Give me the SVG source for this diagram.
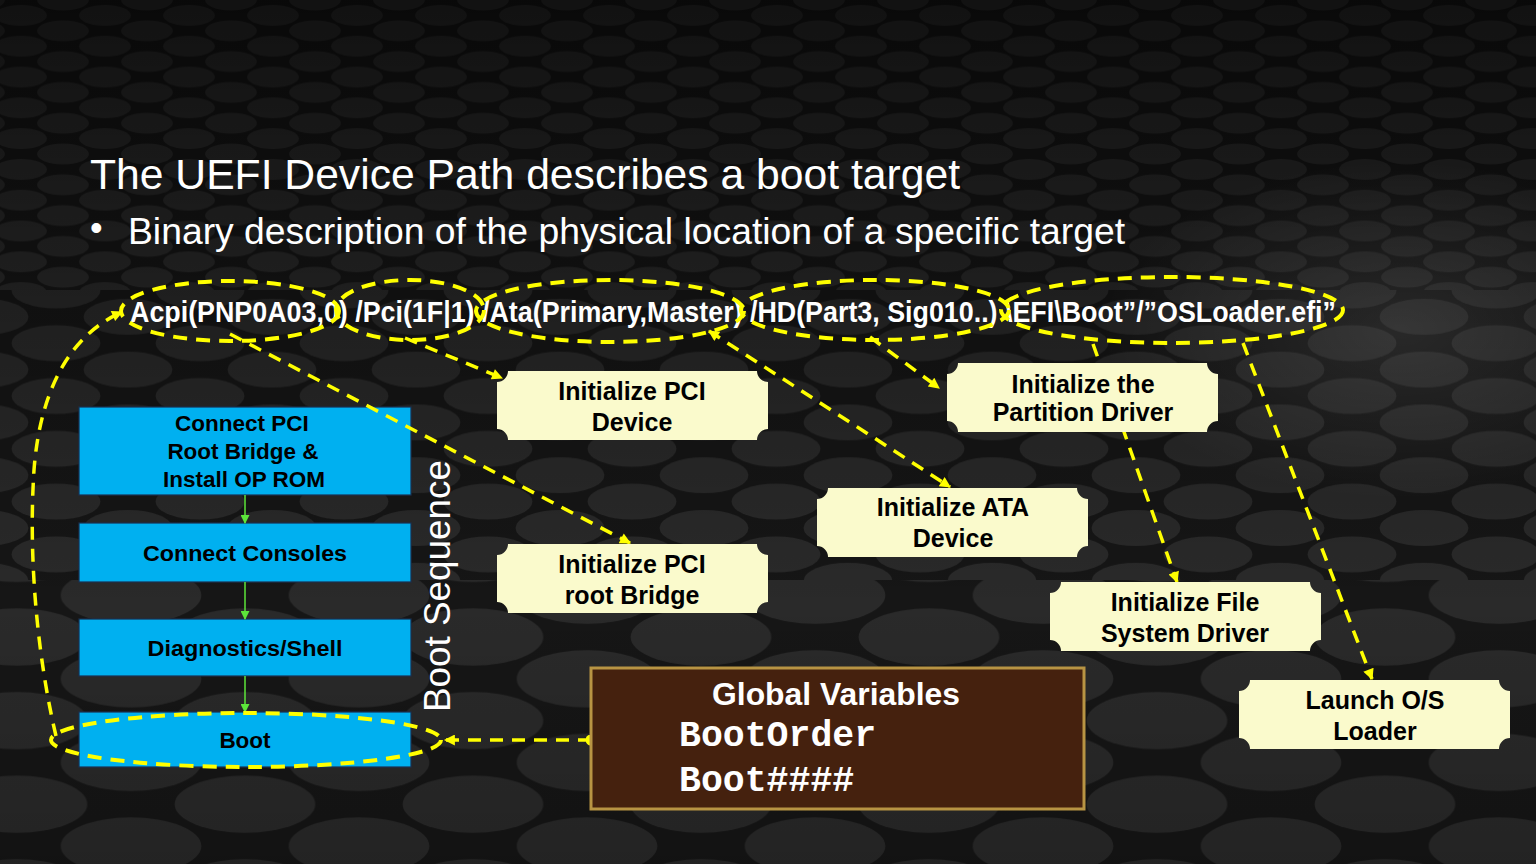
<svg xmlns="http://www.w3.org/2000/svg" xmlns:xlink="http://www.w3.org/1999/xlink" width="1536" height="864" viewBox="0 0 1536 864">
<style>
.ttl{font-family:"Liberation Sans",Arial,sans-serif;fill:#FFFFFF}
.dp{font-family:"Liberation Sans Narrow","Liberation Sans",Arial,sans-serif;font-weight:bold;font-size:29px;fill:#FFFFFF}
.bt{font-family:"Liberation Sans",Arial,sans-serif;font-weight:bold;font-size:22.5px;fill:#000000;text-anchor:middle}
.yt{font-family:"Liberation Sans",Arial,sans-serif;font-weight:bold;font-size:25px;fill:#000000;text-anchor:middle}
.blue{fill:#00B0F0;stroke:#1C2F4F;stroke-width:1.2}
.plaque{fill:#FAFACC}
.dash{fill:none;stroke:#FFFF00;stroke-width:3.5;stroke-dasharray:13 9}
.hl{fill:none;stroke:#FFFF00;stroke-width:4;stroke-dasharray:14 9}
.green{stroke:#5CE63A;stroke-width:1.5;fill:none}
.mono{font-family:"Liberation Mono","Courier New",monospace;font-weight:bold;font-size:36.5px;fill:#FFFFFF}
</style>
<defs>
<pattern id="pat" width="120" height="44" patternUnits="userSpaceOnUse">
<rect width="120" height="44" fill="#171717"/>
<g fill="#2c2c2c">
<ellipse cx="30" cy="22" rx="37" ry="15"/>
<ellipse cx="150" cy="22" rx="37" ry="15"/>
<ellipse cx="90" cy="0" rx="37" ry="15"/>
<ellipse cx="90" cy="44" rx="37" ry="15"/>
<ellipse cx="-30" cy="0" rx="37" ry="15"/>
<ellipse cx="-30" cy="44" rx="37" ry="15"/>
</g>
</pattern>
<pattern id="p1" href="#pat" xlink:href="#pat" patternTransform="scale(0.7)"/>
<pattern id="p2" href="#pat" xlink:href="#pat" patternTransform="translate(20,0) scale(1.2)"/>
<pattern id="p3" href="#pat" xlink:href="#pat" patternTransform="translate(-40,10) scale(1.9)"/>
<linearGradient id="shade" x1="0" y1="0" x2="0" y2="1">
<stop offset="0" stop-color="#000" stop-opacity="0.6"/>
<stop offset="0.35" stop-color="#000" stop-opacity="0.3"/>
<stop offset="0.7" stop-color="#000" stop-opacity="0.05"/>
<stop offset="1" stop-color="#000" stop-opacity="0.2"/>
</linearGradient>
<radialGradient id="glow" cx="0.5" cy="0.5" r="0.5">
<stop offset="0" stop-color="#fff" stop-opacity="0.1"/>
<stop offset="1" stop-color="#fff" stop-opacity="0"/>
</radialGradient>
<path id="plq" d="M11,0 H260 A11 11 0 0 0 271,11 V58 A11 11 0 0 0 260,69 H11 A11 11 0 0 0 0,58 V11 A11 11 0 0 0 11,0 Z"/>
<marker id="ah" viewBox="0 0 10 10" refX="9" refY="5" markerWidth="13" markerHeight="11" markerUnits="userSpaceOnUse" orient="auto-start-reverse">
<path d="M0,0 L10,5 L0,10 z" fill="#FFFF00"/>
</marker>
<marker id="dot" viewBox="0 0 10 10" refX="5" refY="5" markerWidth="11" markerHeight="11" markerUnits="userSpaceOnUse">
<circle cx="5" cy="5" r="5" fill="#FFFF00"/>
</marker>
<marker id="gah" viewBox="0 0 10 10" refX="9" refY="5" markerWidth="10" markerHeight="9" markerUnits="userSpaceOnUse" orient="auto">
<path d="M0,0 L10,5 L0,10 z" fill="#5CE63A"/>
</marker>
</defs>

<g id="background">
<rect width="1536" height="864" fill="#161616"/>
<rect y="0" width="1536" height="290" fill="url(#p1)"/>
<rect y="290" width="1536" height="290" fill="url(#p2)"/>
<rect y="580" width="1536" height="284" fill="url(#p3)"/>
<rect width="1536" height="864" fill="url(#shade)"/>
<ellipse cx="1400" cy="330" rx="300" ry="170" fill="url(#glow)"/>
</g>

<g id="title">
<text class="ttl" x="90" y="189" font-size="43" textLength="870" lengthAdjust="spacingAndGlyphs">The UEFI Device Path describes a boot target</text>
<text class="ttl" x="90" y="240" font-size="36">•</text>
<text class="ttl" x="128" y="244" font-size="36" textLength="997" lengthAdjust="spacingAndGlyphs">Binary description of the physical location of a specific target</text>
</g>

<g id="boot-sequence">
<g id="node-connect-pci">
<rect class="blue" x="79" y="407" width="332" height="88"/>
<text class="bt" x="242" y="431">Connect PCI</text>
<text class="bt" x="243" y="459">Root Bridge &amp;</text>
<text class="bt" x="244" y="487">Install OP ROM</text>
</g>
<g id="node-connect-consoles">
<rect class="blue" x="79" y="523" width="332" height="59"/>
<text class="bt" x="245" y="561" textLength="204" lengthAdjust="spacingAndGlyphs">Connect Consoles</text>
</g>
<g id="node-diagnostics">
<rect class="blue" x="79" y="619" width="332" height="57"/>
<text class="bt" x="245" y="656" textLength="195" lengthAdjust="spacingAndGlyphs">Diagnostics/Shell</text>
</g>
<g id="node-boot">
<rect class="blue" x="79" y="712" width="332" height="55"/>
<text class="bt" x="245" y="748">Boot</text>
</g>
<g id="seq-arrows">
<line class="green" x1="245" y1="495" x2="245" y2="523" marker-end="url(#gah)"/>
<line class="green" x1="245" y1="582" x2="245" y2="619" marker-end="url(#gah)"/>
<line class="green" x1="245" y1="676" x2="245" y2="712" marker-end="url(#gah)"/>
</g>
<text class="ttl" font-size="36" transform="translate(450,712) rotate(-90)" textLength="252" lengthAdjust="spacingAndGlyphs">Boot Sequence</text>
</g>

<g id="device-path">
<text class="dp" x="130" y="322" textLength="1206" lengthAdjust="spacingAndGlyphs">Acpi(PNP0A03,0) /Pci(1F|1) /Ata(Primary,Master) /HD(Part3, Sig010..) \EFI\Boot”/”OSLoader.efi”</text>
</g>

<g id="connectors">
<line class="dash" x1="230" y1="334" x2="630" y2="543" marker-end="url(#ah)"/>
<line class="dash" x1="405" y1="338" x2="502" y2="378" marker-end="url(#ah)"/>
<line class="dash" x1="709" y1="331" x2="950" y2="487" marker-start="url(#ah)" marker-end="url(#ah)"/>
<line class="dash" x1="870" y1="337" x2="939" y2="388" marker-end="url(#ah)"/>
<line class="dash" x1="1093" y1="344" x2="1177" y2="582" marker-end="url(#ah)"/>
<line class="dash" x1="1243" y1="343" x2="1372" y2="679" marker-end="url(#ah)"/>
<path class="dash" d="M56,736 C38,660 28,560 34,470 C40,390 70,335 122,312" marker-end="url(#ah)"/>
<line class="dash" x1="591" y1="740" x2="445" y2="740" marker-start="url(#dot)" marker-end="url(#ah)"/>
</g>

<g id="node-init-pci-device">
<use href="#plq" xlink:href="#plq" class="plaque" x="497" y="371"/>
<text class="yt" x="632" y="400">Initialize PCI</text>
<text class="yt" x="632" y="431">Device</text>
</g>
<g id="node-init-pci-root">
<use href="#plq" xlink:href="#plq" class="plaque" x="497" y="544"/>
<text class="yt" x="632" y="573">Initialize PCI</text>
<text class="yt" x="632" y="604">root Bridge</text>
</g>
<g id="node-init-partition">
<use href="#plq" xlink:href="#plq" class="plaque" x="947" y="363"/>
<text class="yt" x="1083" y="393" font-size="23">Initialize the</text>
<text class="yt" x="1083" y="421" font-size="23">Partition Driver</text>
</g>
<g id="node-init-ata">
<use href="#plq" xlink:href="#plq" class="plaque" x="817" y="488"/>
<text class="yt" x="953" y="516">Initialize ATA</text>
<text class="yt" x="953" y="547">Device</text>
</g>
<g id="node-init-fs">
<use href="#plq" xlink:href="#plq" class="plaque" x="1050" y="582"/>
<text class="yt" x="1185" y="611">Initialize File</text>
<text class="yt" x="1185" y="642">System Driver</text>
</g>
<g id="node-launch-os">
<use href="#plq" xlink:href="#plq" class="plaque" x="1239" y="680"/>
<text class="yt" x="1375" y="709">Launch O/S</text>
<text class="yt" x="1375" y="740">Loader</text>
</g>

<g id="node-global-variables">
<rect x="591" y="668" width="493" height="141" fill="#45210E" stroke="#B89443" stroke-width="3"/>
<text x="836" y="705" font-family="Liberation Sans, Arial, sans-serif" font-weight="bold" font-size="31" fill="#FFFFFF" text-anchor="middle" textLength="248" lengthAdjust="spacingAndGlyphs">Global Variables</text>
<text class="mono" x="679" y="746">BootOrder</text>
<text class="mono" x="679" y="791">Boot####</text>
</g>

<g id="highlights">
<ellipse class="hl" cx="230" cy="311" rx="109" ry="30"/>
<ellipse class="hl" cx="410" cy="310" rx="74" ry="30"/>
<ellipse class="hl" cx="610" cy="311" rx="134" ry="31"/>
<ellipse class="hl" cx="875" cy="310" rx="134" ry="30"/>
<ellipse class="hl" cx="1172" cy="310" rx="171" ry="33"/>
<ellipse class="hl" cx="246" cy="740" rx="195" ry="27"/>
</g>
</svg>
